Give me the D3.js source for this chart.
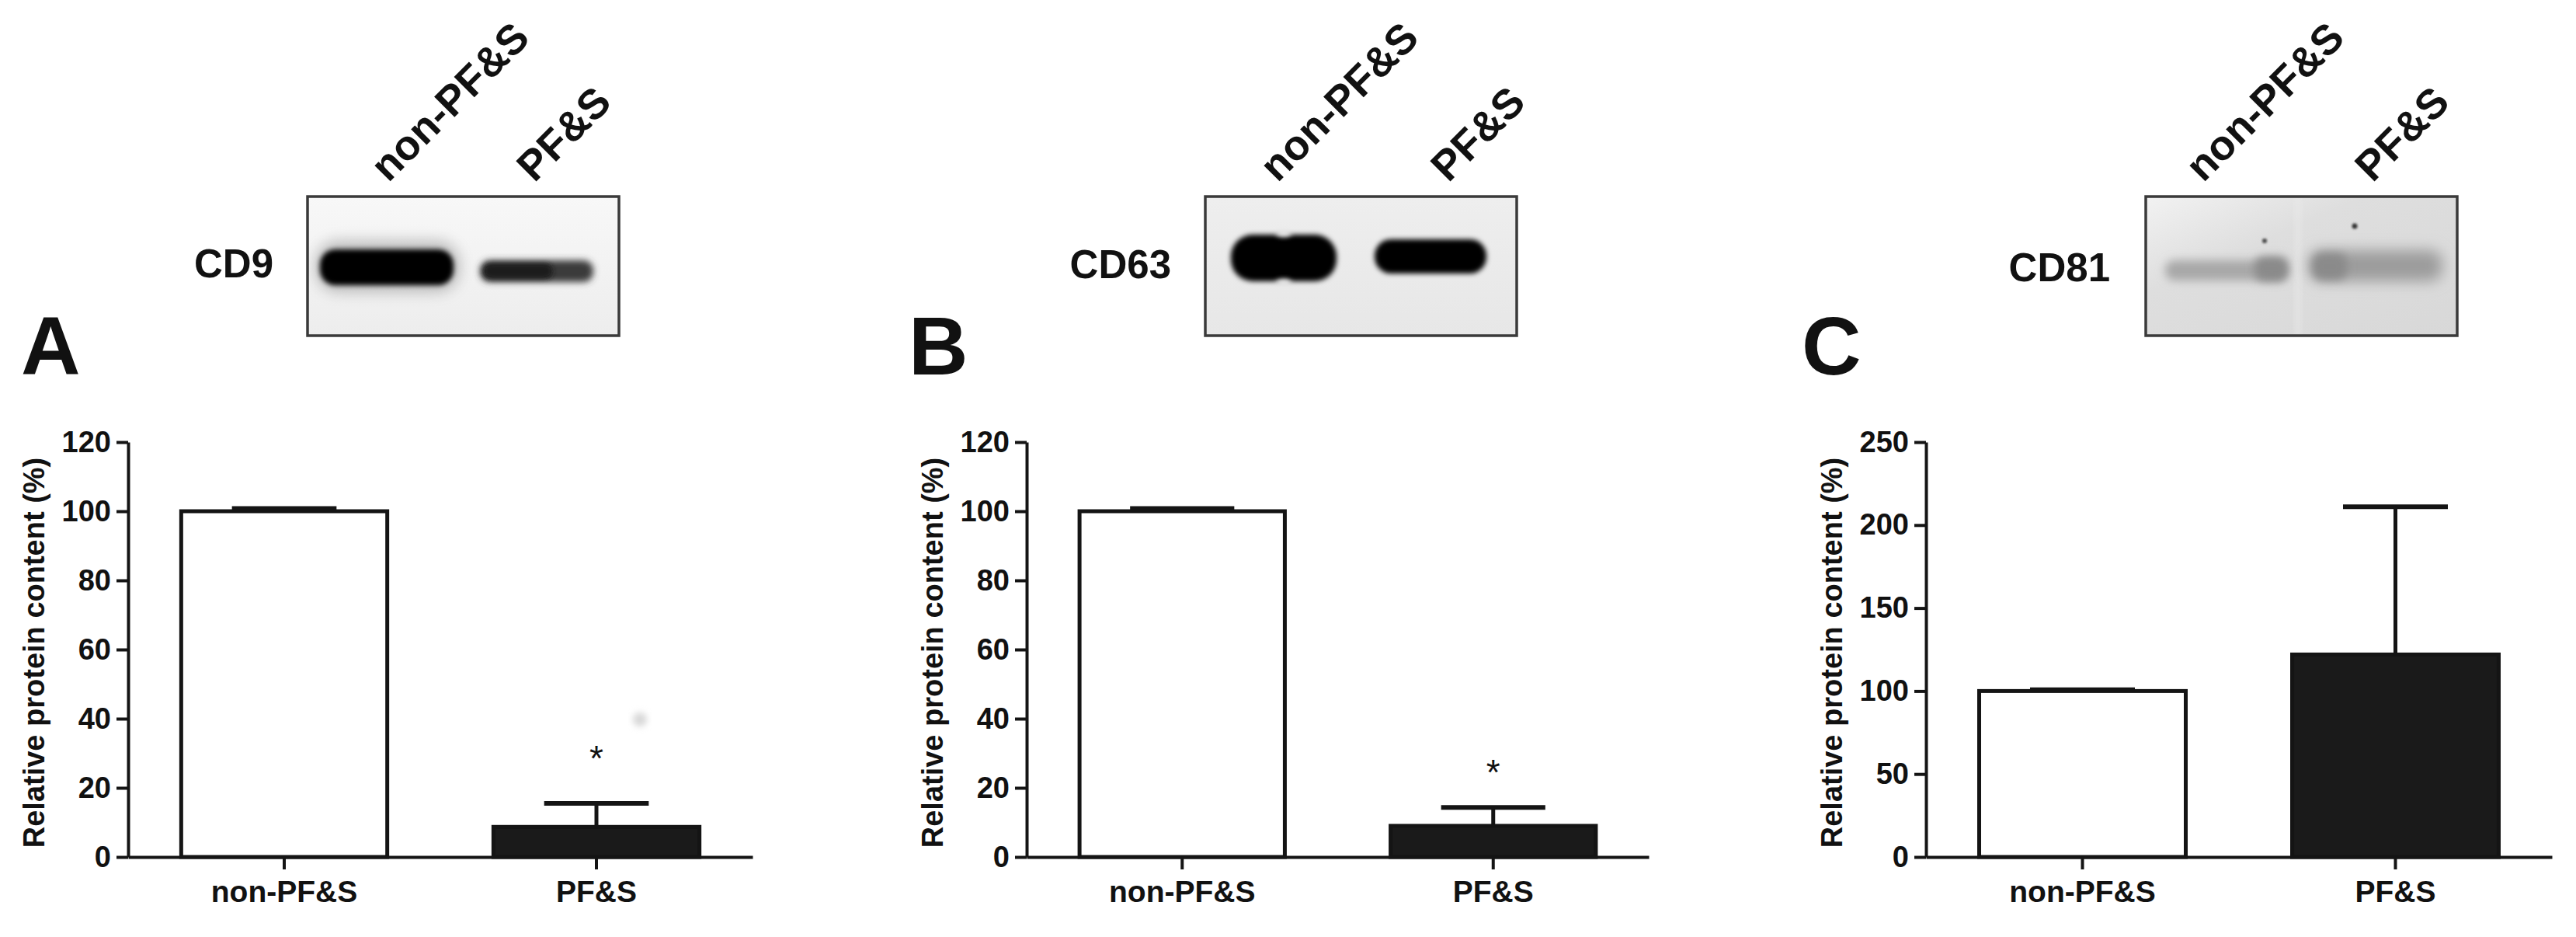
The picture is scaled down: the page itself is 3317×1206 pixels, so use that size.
<!DOCTYPE html>
<html>
<head>
<meta charset="utf-8">
<script src="https://cdn.jsdelivr.net/npm/d3@7"></script>
<style>
  html, body { margin: 0; padding: 0; background: #ffffff; }
  svg { display: block; }
  text { font-family: "Liberation Sans", Arial, Helvetica, sans-serif; fill: #111; }
</style>
</head>
<body>
<svg id="chart" width="3317" height="1206"></svg>
<script>
// ---------------- data ----------------
const categories = ["non-PF&S", "PF&S"];
const panelLetters = ["A", "B", "C"];
const markers = ["CD9", "CD63", "CD81"];
const yTitle = "Relative protein content (%)";

const meanCD9 = [100, 8.7];
const semCD9 = [0.8, 6.8];
const meanCD63 = [100, 9.0];
const semCD63 = [0.8, 5.3];
const meanCD81 = [100, 122];
const semCD81 = [0.8, 89];

const ticksCD9 = [0, 20, 40, 60, 80, 100, 120];
const ticksCD63 = [0, 20, 40, 60, 80, 100, 120];
const ticksCD81 = [0, 50, 100, 150, 200, 250];

const significance = [["", "*"], ["", "*"], ["", ""]];

// ---------------- layout ----------------
const panels = [
  { letter: panelLetters[0], marker: markers[0], mean: meanCD9, sem: semCD9, ticks: ticksCD9, sig: significance[0],
    x0: 165, x1: 969, letterX: 27, markerRight: 352, markerBase: 357,
    blotX: 396, lanes: [500, 688], starGap: 68, smudge: [824, 926] },
  { letter: panelLetters[1], marker: markers[1], mean: meanCD63, sem: semCD63, ticks: ticksCD63, sig: significance[1],
    x0: 1322, x1: 2123, letterX: 1170, markerRight: 1508, markerBase: 358,
    blotX: 1552, lanes: [1645, 1865], starGap: 55 },
  { letter: panelLetters[2], marker: markers[2], mean: meanCD81, sem: semCD81, ticks: ticksCD81, sig: significance[2],
    x0: 2480, x1: 3286, letterX: 2320, markerRight: 2717, markerBase: 362,
    blotX: 2763, lanes: [2837, 3055], starGap: 60 }
];
const yTop = 569, yBottom = 1103;
const blotY = 253, blotW = 401, blotH = 179;

const svg = d3.select("#chart");
svg.append("rect").attr("width", 3317).attr("height", 1206).attr("fill", "#ffffff");

const defs = svg.append("defs");
[1.5, 3, 4, 6, 9].forEach(s => {
  defs.append("filter").attr("id", "blur" + String(s).replace(".", "_"))
    .attr("x", "-30%").attr("y", "-60%").attr("width", "160%").attr("height", "220%")
    .append("feGaussianBlur").attr("stdDeviation", s);
});
const gA = defs.append("linearGradient").attr("id", "gelA").attr("x1", 0).attr("y1", 0).attr("x2", 0).attr("y2", 1);
gA.append("stop").attr("offset", "0%").attr("stop-color", "#f8f8f8");
gA.append("stop").attr("offset", "100%").attr("stop-color", "#ededed");
const gB = defs.append("linearGradient").attr("id", "gelB").attr("x1", 0).attr("y1", 0).attr("x2", 0).attr("y2", 1);
gB.append("stop").attr("offset", "0%").attr("stop-color", "#eeeeee");
gB.append("stop").attr("offset", "100%").attr("stop-color", "#e7e7e7");
const gC = defs.append("linearGradient").attr("id", "gelC").attr("x1", 0).attr("y1", 0).attr("x2", 1).attr("y2", 1);
gC.append("stop").attr("offset", "0%").attr("stop-color", "#f2f2f2");
gC.append("stop").attr("offset", "35%").attr("stop-color", "#dedede");
gC.append("stop").attr("offset", "100%").attr("stop-color", "#d8d8d8");

function blot(p, i) {
  const g = svg.append("g");
  const bx = p.blotX;
  const clipId = "clip" + i;
  defs.append("clipPath").attr("id", clipId).append("rect")
    .attr("x", bx).attr("y", blotY).attr("width", blotW).attr("height", blotH);
  const inner = g.append("g").attr("clip-path", `url(#${clipId})`);
  inner.append("rect").attr("x", bx).attr("y", blotY).attr("width", blotW).attr("height", blotH)
    .attr("fill", ["url(#gelA)", "url(#gelB)", "url(#gelC)"][i]);
  if (i === 0) {
    inner.append("rect").attr("x", bx + 10).attr("y", 310).attr("width", 186).attr("height", 66).attr("rx", 30)
      .attr("fill", "#555").attr("opacity", 0.35).attr("filter", "url(#blur9)");
    inner.append("rect").attr("x", bx + 16).attr("y", 321).attr("width", 172).attr("height", 46).attr("rx", 20)
      .attr("fill", "#050505").attr("filter", "url(#blur3)");
    inner.append("rect").attr("x", bx + 222).attr("y", 335).attr("width", 146).attr("height", 28).attr("rx", 13)
      .attr("fill", "#3a3a3a").attr("filter", "url(#blur4)");
    inner.append("rect").attr("x", bx + 226).attr("y", 339).attr("width", 90).attr("height", 20).attr("rx", 10)
      .attr("fill", "#1e1e1e").attr("filter", "url(#blur3)");
  } else if (i === 1) {
    inner.append("rect").attr("x", bx + 33).attr("y", 302).attr("width", 136).attr("height", 60).attr("rx", 28)
      .attr("fill", "#020202").attr("filter", "url(#blur3)");
    inner.append("ellipse").attr("cx", bx + 101).attr("cy", 300).attr("rx", 10).attr("ry", 5)
      .attr("fill", "#e8e8e8").attr("filter", "url(#blur3)");
    inner.append("ellipse").attr("cx", bx + 101).attr("cy", 364).attr("rx", 10).attr("ry", 5)
      .attr("fill", "#e8e8e8").attr("filter", "url(#blur3)");
    inner.append("rect").attr("x", bx + 218).attr("y", 308).attr("width", 144).attr("height", 44).attr("rx", 21)
      .attr("fill", "#020202").attr("filter", "url(#blur3)");
  } else {
    inner.append("rect").attr("x", bx + 192).attr("y", blotY).attr("width", 8).attr("height", blotH)
      .attr("fill", "#ececec").attr("opacity", 0.45).attr("filter", "url(#blur3)");
    inner.append("rect").attr("x", bx + 25).attr("y", 335).attr("width", 156).attr("height", 26).attr("rx", 12)
      .attr("fill", "#a8a8a8").attr("filter", "url(#blur6)");
    inner.append("rect").attr("x", bx + 140).attr("y", 330).attr("width", 44).attr("height", 32).attr("rx", 12)
      .attr("fill", "#8a8a8a").attr("filter", "url(#blur6)");
    inner.append("rect").attr("x", bx + 210).attr("y", 322).attr("width", 172).attr("height", 40).attr("rx", 16)
      .attr("fill", "#9c9c9c").attr("filter", "url(#blur9)");
    inner.append("rect").attr("x", bx + 215).attr("y", 326).attr("width", 44).attr("height", 34).attr("rx", 12)
      .attr("fill", "#8a8a8a").attr("filter", "url(#blur6)");
    inner.append("circle").attr("cx", bx + 153).attr("cy", 310).attr("r", 3).attr("fill", "#444").attr("filter", "url(#blur1_5)");
    inner.append("circle").attr("cx", bx + 269).attr("cy", 291).attr("r", 3.5).attr("fill", "#333").attr("filter", "url(#blur1_5)");
  }
  g.append("rect").attr("x", bx).attr("y", blotY).attr("width", blotW).attr("height", blotH)
    .attr("fill", "none").attr("stroke", "#3a3a3a").attr("stroke-width", 3.5);

  // lane labels
  categories.forEach((c, k) => {
    g.append("text").attr("transform", `translate(${p.lanes[k]},236) rotate(-45)`)
      .attr("font-size", 54).attr("font-weight", "bold").text(c);
  });
  // marker label
  g.append("text").attr("x", p.markerRight).attr("y", p.markerBase).attr("text-anchor", "end")
    .attr("font-size", 51).attr("font-weight", "bold").text(p.marker);
  // panel letter
  g.append("text").attr("x", p.letterX).attr("y", 482)
    .attr("font-size", 106).attr("font-weight", "bold").text(p.letter);
}

function chart(p) {
  const g = svg.append("g");
  const x = d3.scaleBand().domain(categories).range([p.x0, p.x1]).padding(0);
  const y = d3.scaleLinear().domain([0, d3.max(p.ticks)]).range([yBottom, yTop]);
  const step = x.step();
  const barW = step * 0.66;
  const capW = step * 0.335;

  // error bars (upper only) drawn first
  categories.forEach((c, k) => {
    const cx = x(c) + x.bandwidth() / 2;
    const top = y(p.mean[k] + p.sem[k]);
    g.append("line").attr("x1", cx).attr("x2", cx).attr("y1", y(p.mean[k])).attr("y2", top)
      .attr("stroke", "#141414").attr("stroke-width", 5);
    g.append("line").attr("x1", cx - capW / 2).attr("x2", cx + capW / 2).attr("y1", top).attr("y2", top)
      .attr("stroke", "#141414").attr("stroke-width", 6);
  });

  // bars
  g.selectAll("rect.bar").data(categories).join("rect").attr("class", "bar")
    .attr("x", c => x(c) + (x.bandwidth() - barW) / 2)
    .attr("width", barW)
    .attr("y", (c, k) => y(p.mean[k]))
    .attr("height", (c, k) => yBottom - y(p.mean[k]))
    .attr("fill", (c, k) => k === 0 ? "#ffffff" : "#1a1a1a")
    .attr("stroke", "#141414").attr("stroke-width", 5);

  // significance marks
  categories.forEach((c, k) => {
    if (!p.sig[k]) return;
    const cx = x(c) + x.bandwidth() / 2;
    const cy = y(p.mean[k] + p.sem[k]) - p.starGap;
    g.append("text").attr("x", cx).attr("y", cy + 26).attr("text-anchor", "middle")
      .attr("font-size", 46).text(p.sig[k]);
  });
  if (p.smudge) {
    g.append("circle").attr("cx", p.smudge[0]).attr("cy", p.smudge[1]).attr("r", 9)
      .attr("fill", "#d6d6d6").attr("filter", "url(#blur4)");
  }

  // y axis
  const ya = g.append("g").attr("transform", `translate(${p.x0},0)`)
    .call(d3.axisLeft(y).tickValues(p.ticks).tickSize(15).tickPadding(7).tickSizeOuter(0).tickFormat(d3.format("d")));
  ya.select(".domain").attr("stroke", "#141414").attr("stroke-width", 4);
  ya.selectAll(".tick line").attr("stroke", "#141414").attr("stroke-width", 4);
  ya.selectAll(".tick text").attr("font-size", 38).attr("font-weight", "bold")
    .attr("font-family", "'Liberation Sans', Arial, sans-serif").attr("fill", "#111");

  // x axis
  const xa = g.append("g").attr("transform", `translate(0,${yBottom})`)
    .call(d3.axisBottom(x).tickSize(16).tickPadding(14).tickSizeOuter(0));
  xa.select(".domain").attr("stroke", "#141414").attr("stroke-width", 4);
  xa.selectAll(".tick line").attr("stroke", "#141414").attr("stroke-width", 4);
  xa.selectAll(".tick text").attr("font-size", 39).attr("font-weight", "bold")
    .attr("font-family", "'Liberation Sans', Arial, sans-serif").attr("fill", "#111");

  // y title
  g.append("text").attr("transform", `translate(${p.x0 - 108},${(yTop + yBottom) / 2 + 4}) rotate(-90)`)
    .attr("text-anchor", "middle").attr("font-size", 38).attr("font-weight", "bold").text(yTitle);
}

panels.forEach((p, i) => { blot(p, i); chart(p); });
</script>
</body>
</html>
